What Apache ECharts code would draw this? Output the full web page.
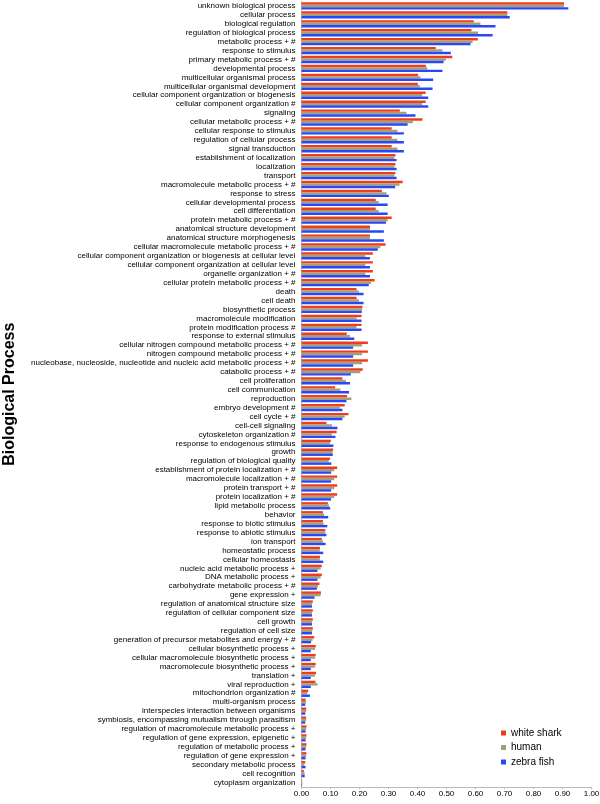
<!DOCTYPE html>
<html>
<head>
<meta charset="utf-8">
<script src="https://cdn.jsdelivr.net/npm/echarts@6/dist/echarts.min.js"></script>
<style>
html,body{margin:0;padding:0;background:#fff;}
#chart{width:600px;height:804px;}
</style>
</head>
<body>
<div id="chart"></div>
<script>
const categories = [
  "unknown biological process","cellular process","biological regulation","regulation of biological process",
  "metabolic process + #","response to stimulus","primary metabolic process + #","developmental process",
  "multicellular organismal process","multicellular organismal development","cellular component organization or biogenesis",
  "cellular component organization #","signaling","cellular metabolic process + #","cellular response to stimulus",
  "regulation of cellular process","signal transduction","establishment of localization","localization","transport",
  "macromolecule metabolic process + #","response to stress","cellular developmental process","cell differentiation",
  "protein metabolic process + #","anatomical structure development","anatomical structure morphogenesis",
  "cellular macromolecule metabolic process + #","cellular component organization or biogenesis at cellular level",
  "cellular component organization at cellular level","organelle organization + #","cellular protein metabolic process + #",
  "death","cell death","biosynthetic process","macromolecule modification","protein modification process #",
  "response to external stimulus","cellular nitrogen compound metabolic process + #","nitrogen compound metabolic process + #",
  "nucleobase, nucleoside, nucleotide and nucleic acid metabolic process + #","catabolic process + #","cell proliferation",
  "cell communication","reproduction","embryo development #","cell cycle + #","cell-cell signaling","cytoskeleton organization #",
  "response to endogenous stimulus","growth","regulation of biological quality","establishment of protein localization + #",
  "macromolecule localization + #","protein transport + #","protein localization + #","lipid metabolic process","behavior",
  "response to biotic stimulus","response to abiotic stimulus","ion transport","homeostatic process","cellular homeostasis",
  "nucleic acid metabolic process +","DNA metabolic process +","carbohydrate metabolic process + #","gene expression +",
  "regulation of anatomical structure size","regulation of cellular component size","cell growth","regulation of cell size",
  "generation of precursor metabolites and energy + #","cellular biosynthetic process +","cellular macromolecule biosynthetic process +",
  "macromolecule biosynthetic process +","translation +","viral reproduction +","mitochondrion organization #",
  "multi-organism process","interspecies interaction between organisms","symbiosis, encompassing mutualism through parasitism",
  "regulation of macromolecule metabolic process +","regulation of gene expression, epigenetic +","regulation of metabolic process +",
  "regulation of gene expression +","secondary metabolic process","cell recognition","cytoplasm organization"
];

const whiteShark = [
  0.905,0.710,0.594,0.586,0.608,0.463,0.520,0.429,0.402,0.401,0.428,0.428,0.339,0.417,0.311,0.311,0.311,0.324,0.324,0.324,
  0.349,0.277,0.256,0.256,0.311,0.236,0.236,0.290,0.246,0.246,0.246,0.252,0.190,0.190,0.210,0.207,0.207,0.156,0.229,0.229,
  0.229,0.211,0.141,0.116,0.157,0.149,0.162,0.086,0.121,0.101,0.109,0.098,0.123,0.123,0.123,0.123,0.091,0.074,0.074,0.082,
  0.070,0.064,0.064,0.070,0.070,0.062,0.067,0.039,0.039,0.039,0.039,0.044,0.049,0.049,0.049,0.050,0.048,0.023,0.014,0.016,
  0.016,0.017,0.017,0.017,0.017,0.013,0.008,0.002
];
const human = [
  0.905,0.710,0.617,0.609,0.590,0.486,0.498,0.434,0.410,0.408,0.416,0.416,0.362,0.384,0.331,0.331,0.331,0.320,0.320,0.320,
  0.338,0.293,0.266,0.266,0.297,0.236,0.236,0.272,0.220,0.220,0.220,0.240,0.198,0.198,0.209,0.190,0.190,0.167,0.209,0.209,
  0.209,0.203,0.153,0.134,0.172,0.132,0.149,0.105,0.105,0.098,0.107,0.094,0.113,0.113,0.113,0.113,0.095,0.078,0.076,0.082,
  0.074,0.063,0.063,0.066,0.066,0.057,0.066,0.036,0.036,0.036,0.037,0.038,0.047,0.047,0.047,0.047,0.055,0.020,0.016,0.016,
  0.016,0.016,0.016,0.016,0.016,0.010,0.011,0.003
];
const zebraFish = [
  0.920,0.718,0.669,0.659,0.583,0.515,0.490,0.486,0.454,0.452,0.437,0.437,0.393,0.366,0.353,0.353,0.353,0.328,0.328,0.328,
  0.323,0.301,0.297,0.297,0.291,0.284,0.284,0.263,0.236,0.236,0.236,0.232,0.214,0.214,0.208,0.207,0.207,0.182,0.178,0.178,
  0.178,0.170,0.167,0.164,0.155,0.141,0.141,0.124,0.117,0.110,0.108,0.103,0.102,0.102,0.102,0.102,0.099,0.092,0.089,0.086,
  0.083,0.075,0.075,0.055,0.055,0.053,0.045,0.036,0.036,0.036,0.036,0.033,0.032,0.032,0.032,0.032,0.032,0.029,0.013,0.013,
  0.013,0.014,0.014,0.014,0.014,0.014,0.011,0.002
];
const xTicks = ["0.00","0.10","0.20","0.30","0.40","0.50","0.60","0.70","0.80","0.90","1.00"];
const seriesNames = ["white shark","human","zebra fish"];
const seriesColors = ["#ee3d1b","#a59e7c","#2648f6"];

const chart = echarts.init(document.getElementById('chart'), null, {renderer:'canvas'});
const FONT = 'Liberation Sans, Arial, sans-serif';
const option = {
  animation: false,
  backgroundColor: '#fff',
  textStyle: {fontFamily: FONT},
  grid: {left: 301.5, right: 8.5, top: 1.5, bottom: 17, containLabel: false, outerBoundsMode: 'none'},
  legend: {
    orient: 'vertical', left: 496, top: 722,
    data: seriesNames,
    icon: 'rect', itemWidth: 5, itemHeight: 5, itemGap: 2.5,
    textStyle: {fontSize: 10, color: '#000', fontFamily: FONT, lineHeight: 12}
  },
  xAxis: {
    type: 'value', min: 0, max: 1, interval: 0.1,
    axisLine: {show: true, lineStyle: {color: '#bbb'}},
    axisTick: {show: true, length: 2, lineStyle: {color: '#bbb'}},
    splitLine: {show: false},
    axisLabel: {fontSize: 8, color: '#000', margin: 3, fontFamily: FONT,
      formatter: function (v) { return xTicks[Math.round(v * 10)]; }}
  },
  yAxis: {
    type: 'category', data: categories, inverse: true,
    axisLine: {show: true, lineStyle: {color: '#bbb'}},
    axisTick: {show: false},
    axisLabel: {fontSize: 8, color: '#000', margin: 6, interval: 0, fontFamily: FONT},
    name: 'Biological Process', nameLocation: 'middle', nameRotate: 90, nameGap: 284,
    nameTextStyle: {fontSize: 16, fontWeight: 'bold', color: '#000', fontFamily: FONT}
  },
  series: [
    {name: seriesNames[0], type: 'bar', data: whiteShark, itemStyle: {color: seriesColors[0]}, barGap: '0%', barCategoryGap: '18%'},
    {name: seriesNames[1], type: 'bar', data: human, itemStyle: {color: seriesColors[1]}, barGap: '0%', barCategoryGap: '18%'},
    {name: seriesNames[2], type: 'bar', data: zebraFish, itemStyle: {color: seriesColors[2]}, barGap: '0%', barCategoryGap: '18%'}
  ]
};
chart.setOption(option);
</script>
</body>
</html>
